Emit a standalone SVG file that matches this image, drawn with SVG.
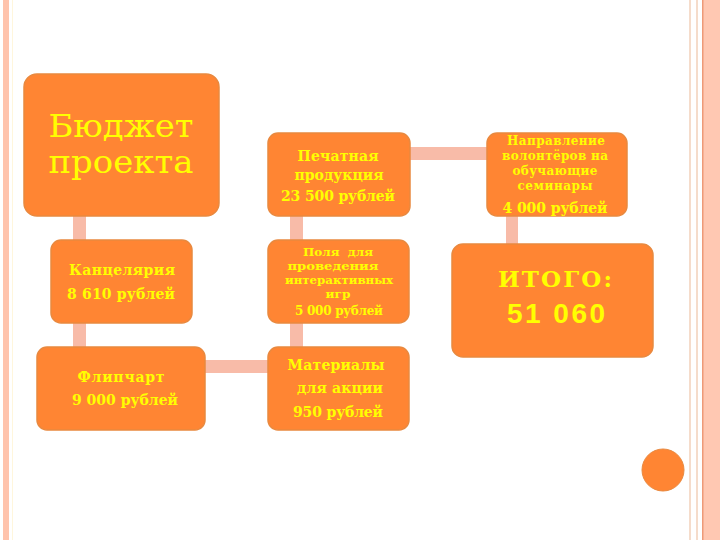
<svg xmlns="http://www.w3.org/2000/svg" width="720" height="540" viewBox="0 0 720 540">
<style>
.box{fill:#FF8533;stroke:#E9893F;stroke-width:1.5}
.bar{fill:#F8BBA8}
.t{font-family:"DejaVu Serif","Liberation Serif",serif;font-weight:bold;fill:#FFFF00;text-anchor:middle}
.s{font-size:12px}
.xs{font-size:10.5px}
.m{font-size:14px}
</style>
<rect x="0" y="0" width="720" height="540" fill="#FFFFFF"/>
<rect x="3" y="0" width="6" height="540" fill="#FFC3AC"/>
<rect x="12" y="0" width="1" height="540" fill="#FFF6DC"/>
<rect x="689" y="0" width="2" height="540" fill="#F5DCCB"/>
<rect x="696" y="0" width="2" height="540" fill="#F5DCCB"/>
<rect x="702" y="0" width="18" height="540" fill="#FFC8B2"/>
<rect x="702" y="0" width="1.5" height="540" fill="#EE9A78"/>
<g id="connectors">
<rect class="bar" x="73" y="216" width="13" height="25"/>
<rect class="bar" x="73" y="322" width="13" height="25"/>
<rect class="bar" x="205" y="360" width="63" height="13"/>
<rect class="bar" x="290" y="322" width="13" height="25"/>
<rect class="bar" x="290" y="216" width="13" height="25"/>
<rect class="bar" x="410" y="147" width="77" height="13"/>
<rect class="bar" x="506" y="216" width="12" height="28"/>
</g>
<g id="budget">
<rect class="box" x="24" y="74" width="195" height="142" rx="13"/>
<text class="t" x="121" y="137" style="font-weight:normal;font-size:32px" textLength="145" lengthAdjust="spacingAndGlyphs">Бюджет</text>
<text class="t" x="121" y="173" style="font-weight:normal;font-size:32px" textLength="145" lengthAdjust="spacingAndGlyphs">проекта</text>
</g>
<g id="print">
<rect class="box" x="268" y="133" width="142" height="83" rx="10"/>
<text class="t m" x="338" y="161" textLength="81">Печатная</text>
<text class="t m" x="339" y="180" textLength="89">продукция</text>
<text class="t m" x="338" y="201" textLength="114">23 500 рублей</text>
</g>
<g id="volunteers">
<rect class="box" x="487" y="133" width="140" height="83" rx="10"/>
<text class="t s" x="556" y="145" textLength="98">Направление</text>
<text class="t s" x="555" y="160" textLength="106">волонтёров на</text>
<text class="t s" x="555" y="175" textLength="85">обучающие</text>
<text class="t s" x="555" y="190" textLength="75">семинары</text>
<text class="t m" x="555" y="213" textLength="105">4 000 рублей</text>
</g>
<g id="office">
<rect class="box" x="51" y="240" width="141" height="83" rx="10"/>
<text class="t m" x="122" y="275" textLength="106">Канцелярия</text>
<text class="t m" x="121" y="299" textLength="108">8 610 рублей</text>
</g>
<g id="fields">
<rect class="box" x="268" y="240" width="141" height="83" rx="10"/>
<text class="t xs" x="338" y="256" textLength="70" lengthAdjust="spacingAndGlyphs" xml:space="preserve">Поля  для</text>
<text class="t xs" x="333" y="270" textLength="91" lengthAdjust="spacingAndGlyphs">проведения</text>
<text class="t xs" x="339" y="284" textLength="108" lengthAdjust="spacingAndGlyphs">интерактивных</text>
<text class="t xs" x="338" y="298" textLength="25" lengthAdjust="spacingAndGlyphs">игр</text>
<text class="t s" x="339" y="315" textLength="88">5 000 рублей</text>
</g>
<g id="total">
<rect class="box" x="452" y="244" width="201" height="113" rx="11"/>
<text class="t" x="555" y="287" style="font-size:23px" textLength="114">ИТОГО:</text>
<text class="t" x="556" y="323" style="font-family:'Liberation Sans','DejaVu Sans',sans-serif;font-size:28px" textLength="98">51 060</text>
</g>
<g id="flipchart">
<rect class="box" x="37" y="347" width="168" height="83" rx="10"/>
<text class="t m" x="121" y="382" textLength="87">Флипчарт</text>
<text class="t m" x="125" y="405" textLength="106">9 000 рублей</text>
</g>
<g id="materials">
<rect class="box" x="268" y="347" width="141" height="83" rx="10"/>
<text class="t m" x="336" y="370" textLength="97">Материалы</text>
<text class="t m" x="340" y="393" textLength="86">для акции</text>
<text class="t m" x="338" y="417" textLength="90">950 рублей</text>
</g>
<circle cx="663" cy="470" r="21" fill="#FF8533" stroke="#E9893F" stroke-width="1"/>
</svg>
